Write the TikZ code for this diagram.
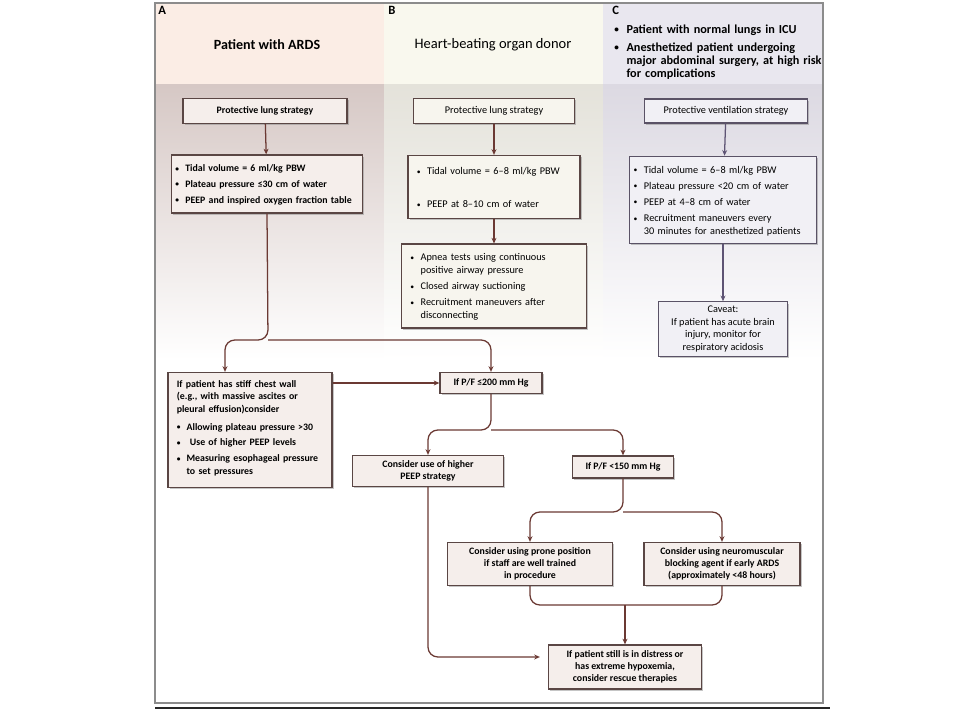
\documentclass[tikz,border=0pt]{standalone}
\usepackage{fontspec}
\setmainfont{Carlito}
\usepackage{tikz}
\usetikzlibrary{
	arrows.meta,
	calc,
	positioning,
	shadows,
	}

\definecolor{arrA}{HTML}{6B3933}
\definecolor{arrC}{HTML}{5E5474}
\definecolor{edgeA}{HTML}{5A4644}
\definecolor{edgeC}{HTML}{5A5266}
\definecolor{fillA}{HTML}{F5EEEB}
\definecolor{fillB}{HTML}{F7F5EE}
\definecolor{fillC}{HTML}{F1F0F5}
\definecolor{hdA}{HTML}{FBEDE5}
\definecolor{hdB}{HTML}{F9F8EE}
\definecolor{hdC}{HTML}{E9E7EF}
\definecolor{bgA}{HTML}{D6C8C5}
\definecolor{bgB}{HTML}{E4E2DA}
\definecolor{bgC}{HTML}{DCD9E2}

\hyphenpenalty=10000
\exhyphenpenalty=10000

\newcommand{\itm}[1]{\par\hangindent=1em\hangafter=1\noindent\makebox[1em][l]{\raisebox{0.1ex}{\scalebox{0.75}{\textbullet}}}#1\par\vspace{2.6pt}}

\tikzset{
	box/.style={draw=edgeA, line width=0.9pt, fill=fillA, rectangle, inner sep=3pt,
		font=\fontsize{7.3}{8.9}\selectfont, align=center,
		drop shadow={shadow xshift=1.2pt, shadow yshift=-1.2pt, fill=black!45}},
	boxbf/.style={box, font=\bfseries\fontsize{7}{8.7}\selectfont},
	boxb/.style={box, fill=fillB},
	boxc/.style={box, draw=edgeC, fill=fillC},
	arr/.style={-{Stealth[length=4pt, width=3.5pt]}, draw=arrA, line width=0.9pt, rounded corners=7pt},
	arrc/.style={arr, draw=arrC},
	ln/.style={draw=arrA, line width=0.9pt, rounded corners=7pt},
}

\begin{document}
\begin{tikzpicture}[x=0.025cm, y=-0.025cm]
	\fill[white] (0,0) rectangle (960,720);
	\useasboundingbox (0,0) rectangle (960,720);
	% headers and column backgrounds
	\fill[hdA] (155,3) rectangle (384,85);
	\fill[hdB] (384,3) rectangle (603,85);
	\fill[hdC] (603,3) rectangle (823,85);
	\shade[top color=bgA, bottom color=white] (155,85) rectangle (384,360);
	\shade[top color=bgB, bottom color=white] (384,85) rectangle (603,360);
	\shade[top color=bgC, bottom color=white] (603,85) rectangle (823,360);
	\draw[black!45, line width=0.8pt] (155,3) rectangle (823,703);
	\draw[black!85, line width=1.3pt] (155,708) -- (830,708);

	\node[anchor=north west, font=\bfseries\fontsize{9}{10}\selectfont, inner sep=0pt] (ta) at (158,6) {A};
	\node[anchor=north west, font=\bfseries\fontsize{9}{10}\selectfont, inner sep=0pt] (tb) at (388,6) {B};
	\node[anchor=north west, font=\bfseries\fontsize{9}{10}\selectfont, inner sep=0pt] (tc) at (612,6) {C};
	\node[font=\bfseries\fontsize{10}{11}\selectfont] (hda) at (267,45) {Patient with ARDS};
	\node[font=\fontsize{10.3}{11}\selectfont] (hdb) at (493,45) {Heart-beating organ donor};
	\node[anchor=north west, text width=5.4cm, inner sep=0pt, font=\bfseries\fontsize{8.7}{9.3}\selectfont] (hdc) at (614,20) {
		\itm{Patient with normal lungs in ICU}\vspace{1pt}
		\itm{Anesthetized patient undergoing\newline major abdominal surgery, at high risk\newline for complications}
	};

	% column A
	\node[boxbf, minimum width=4.1cm, minimum height=0.625cm] (a1) at (265,111) {Protective lung strategy};
	\node[boxbf, minimum width=4.775cm, minimum height=1.45cm, inner xsep=0.1cm, text width=4.575cm, align=left] (a2) at (267,184) {
		\itm{Tidal volume = 6 ml/kg PBW}
		\itm{Plateau pressure ≤30 cm of water}
		\itm{PEEP and inspired oxygen fraction table}\vspace{-2.6pt}};
	\node[boxbf, minimum width=4.1cm, minimum height=2.875cm, inner xsep=0.22cm, text width=3.66cm, align=left] (a3) at (250,430) {
		If patient has stiff chest wall\newline (e.g., with massive ascites or\newline pleural effusion)consider\par\vspace{4pt}
		\itm{Allowing plateau pressure >30}
		\itm{\ Use of higher PEEP levels}
		\itm{Measuring esophageal pressure\newline to set pressures}\vspace{-2.6pt}};

	% column B
	\node[boxb, minimum width=4.025cm, minimum height=0.625cm] (b1) at (494,111) {Protective lung strategy};
	\node[boxb, minimum width=4.3cm, minimum height=1.575cm, inner xsep=0.22cm, text width=3.86cm, align=left] (b2) at (494,187) {
		\itm{Tidal volume = 6--8 ml/kg PBW}\vspace{12pt}
		\itm{PEEP at 8--10 cm of water}\vspace{-2.6pt}};
	\node[boxb, minimum width=4.625cm, minimum height=1.875cm, inner xsep=0.22cm, text width=4.18cm, align=left] (b3) at (494,286) {
		\itm{Apnea tests using continuous\newline positive airway pressure}
		\itm{Closed airway suctioning}
		\itm{Recruitment maneuvers after\newline disconnecting}\vspace{-2.6pt}};

	% column C
	\node[boxc, minimum width=4.075cm, minimum height=0.6cm] (c1) at (726,111) {Protective ventilation strategy};
	\node[boxc, minimum width=4.675cm, minimum height=2.15cm, inner xsep=0.1cm, text width=4.47cm, align=left] (c2) at (723,200) {
		\itm{Tidal volume = 6--8 ml/kg PBW}
		\itm{Plateau pressure <20 cm of water}
		\itm{PEEP at 4--8 cm of water}
		\itm{Recruitment maneuvers every\newline 30 minutes for anesthetized patients}\vspace{-2.6pt}};
	\node[boxc, minimum width=3.225cm, minimum height=1.3cm] (c3) at (723,329) {Caveat:\\If patient has acute brain\\injury, monitor for\\respiratory acidosis};

	% lower flow
	\node[boxbf, minimum width=2.55cm, minimum height=0.525cm] (pf1) at (491,383) {If P/F ≤200 mm Hg};
	\node[boxbf, minimum width=3.775cm, minimum height=0.775cm] (peep) at (428,471) {Consider use of higher\\PEEP strategy};
	\node[boxbf, minimum width=2.525cm, minimum height=0.55cm] (pf2) at (623,467) {If P/F <150 mm Hg};
	\node[boxbf, minimum width=4.125cm, minimum height=1.075cm] (prone) at (530,564) {Consider using prone position\\if staff are well trained\\in procedure};
	\node[boxbf, minimum width=3.9cm, minimum height=1.075cm] (nmb) at (722,564) {Consider using neuromuscular\\blocking agent if early ARDS\\(approximately <48 hours)};
	\node[boxbf, minimum width=3.825cm, minimum height=1.1cm] (rescue) at (625,667) {If patient still is in distress or\\has extreme hypoxemia,\\consider rescue therapies};

	\coordinate (brace) at (268,340);
	\coordinate (split1) at (491,430);
	\coordinate (split2) at (623,512);
	\coordinate (join) at (625,605);

	\draw[arr] (a1) -- (a2);
	\draw[arr] (b1) -- (b2);
	\draw[arr] (b2) -- (b3);
	\draw[arrc] (c1) -- (c2);
	\draw[arrc] (c2) -- (c3);
	\draw[arr] (a2.south) -- (brace) -| ($(a3.north)+(-25,0)$);
	\draw[arr] (brace) -| (pf1.north);
	\draw[arr] (a3.east |- pf1.west) -- (pf1.west);
	\draw[arr] (pf1.south) -- (split1) -| (peep.north);
	\draw[arr] (split1) -| (pf2.north);
	\draw[arr] (pf2.south) -- (split2) -| (prone.north);
	\draw[arr] (split2) -| (nmb.north);
	\draw[ln] (prone.south) |- (join) -| (nmb.south);
	\draw[arr] (join) -- (rescue.north);
	\draw[arr] (peep.south) |- ($(rescue.west)+(-8,-10)$);
\end{tikzpicture}
\end{document}
